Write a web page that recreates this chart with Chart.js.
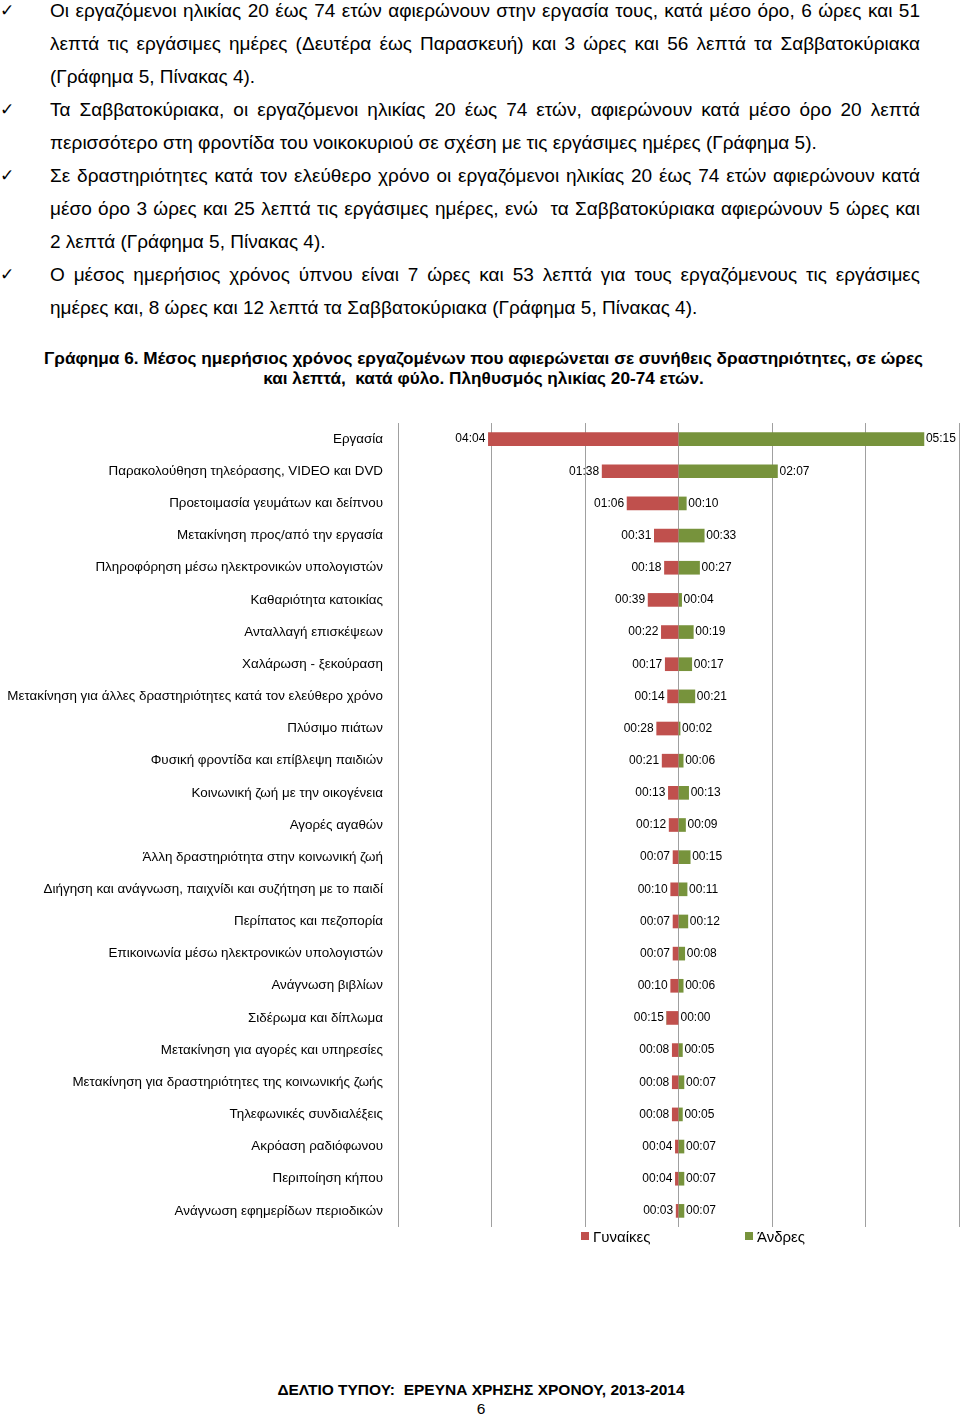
<!DOCTYPE html>
<html lang="el">
<head>
<meta charset="utf-8">
<title>Γράφημα 6</title>
<script src="https://cdn.jsdelivr.net/npm/chart.js@4.4.1/dist/chart.umd.min.js"></script>
<style>
  body { margin: 0; width: 960px; height: 1416px; position: relative; overflow: hidden;
         background: #fff; color: #000; font-family: "Liberation Sans", Arial, sans-serif; }
  .text { position: absolute; left: 0; top: -6px; width: 920px; font-size: 19px; line-height: 33px; }
  .para { position: relative; }
  .check { position: absolute; left: 0; top: 0; font-family: "DejaVu Sans", sans-serif; font-size: 17px; }
  .line { margin-left: 50px; text-align: justify; text-align-last: justify; }
  .line.end { text-align-last: left; }
  .caption { position: absolute; left: 0; top: 348px; width: 967px; text-align: center;
             font-weight: bold; font-size: 17.2px; line-height: 20px; }
  #chart { position: absolute; left: 0; top: 400px; }
  .legend { position: absolute; top: 1228px; font-size: 15px; line-height: 18px; }
  .legend span { display: inline-block; width: 8px; height: 8px; margin-right: 4px; vertical-align: 2px; }
  .footer { position: absolute; left: 0; top: 1380px; width: 962px; text-align: center;
            font-size: 15.5px; line-height: 19px; }
</style>
</head>
<body>

<div class="text">
  <div class="para"><span class="check">✓</span>
    <div class="line">Οι εργαζόμενοι ηλικίας 20 έως 74 ετών αφιερώνουν στην εργασία τους, κατά μέσο όρο, 6 ώρες και 51</div>
    <div class="line">λεπτά τις εργάσιμες ημέρες (Δευτέρα έως Παρασκευή) και 3 ώρες και 56 λεπτά τα Σαββατοκύριακα</div>
    <div class="line end">(Γράφημα 5, Πίνακας 4).</div>
  </div>
  <div class="para"><span class="check">✓</span>
    <div class="line">Τα Σαββατοκύριακα, οι εργαζόμενοι ηλικίας 20 έως 74 ετών, αφιερώνουν κατά μέσο όρο 20 λεπτά</div>
    <div class="line end">περισσότερο στη φροντίδα του νοικοκυριού σε σχέση με τις εργάσιμες ημέρες (Γράφημα 5).</div>
  </div>
  <div class="para"><span class="check">✓</span>
    <div class="line">Σε δραστηριότητες κατά τον ελεύθερο χρόνο οι εργαζόμενοι ηλικίας 20 έως 74 ετών αφιερώνουν κατά</div>
    <div class="line">μέσο όρο 3 ώρες και 25 λεπτά τις εργάσιμες ημέρες, ενώ &nbsp;τα Σαββατοκύριακα αφιερώνουν 5 ώρες και</div>
    <div class="line end">2 λεπτά (Γράφημα 5, Πίνακας 4).</div>
  </div>
  <div class="para"><span class="check">✓</span>
    <div class="line">Ο μέσος ημερήσιος χρόνος ύπνου είναι 7 ώρες και 53 λεπτά για τους εργαζόμενους τις εργάσιμες</div>
    <div class="line end">ημέρες και, 8 ώρες και 12 λεπτά τα Σαββατοκύριακα (Γράφημα 5, Πίνακας 4).</div>
  </div>
</div>

<div class="caption">Γράφημα 6. Μέσος ημερήσιος χρόνος εργαζομένων που αφιερώνεται σε συνήθεις δραστηριότητες, σε ώρες<br>και λεπτά, &nbsp;κατά φύλο. Πληθυσμός ηλικίας 20-74 ετών.</div>

<canvas id="chart" width="960" height="850"></canvas>

<div class="legend" style="left:581px"><span style="background:#C0504D"></span>Γυναίκες</div>
<div class="legend" style="left:745px"><span style="background:#77933C"></span>Άνδρες</div>

<div class="footer"><b>ΔΕΛΤΙΟ ΤΥΠΟΥ: &nbsp;ΕΡΕΥΝΑ ΧΡΗΣΗΣ ΧΡΟΝΟΥ, 2013-2014</b><br>6</div>

<script>
// Activities, top to bottom
const activities = [
    'Εργασία',
    'Παρακολούθηση τηλεόρασης, VIDEO και DVD',
    'Προετοιμασία γευμάτων και δείπνου',
    'Μετακίνηση προς/από την εργασία',
    'Πληροφόρηση μέσω ηλεκτρονικών υπολογιστών',
    'Καθαριότητα κατοικίας',
    'Ανταλλαγή επισκέψεων',
    'Χαλάρωση - ξεκούραση',
    'Μετακίνηση για άλλες δραστηριότητες κατά τον ελεύθερο χρόνο',
    'Πλύσιμο πιάτων',
    'Φυσική φροντίδα και επίβλεψη παιδιών',
    'Κοινωνική ζωή με την οικογένεια',
    'Αγορές αγαθών',
    'Άλλη δραστηριότητα στην κοινωνική ζωή',
    'Διήγηση και ανάγνωση, παιχνίδι και συζήτηση με το παιδί',
    'Περίπατος και πεζοπορία',
    'Επικοινωνία μέσω ηλεκτρονικών υπολογιστών',
    'Ανάγνωση βιβλίων',
    'Σιδέρωμα και δίπλωμα',
    'Μετακίνηση για αγορές και υπηρεσίες',
    'Μετακίνηση για δραστηριότητες της κοινωνικής ζωής',
    'Τηλεφωνικές συνδιαλέξεις',
    'Ακρόαση ραδιόφωνου',
    'Περιποίηση κήπου',
    'Ανάγνωση εφημερίδων περιοδικών'
];

// Minutes per day
const womenMinutes = [244, 98, 66, 31, 18, 39, 22, 17, 14, 28, 21, 13, 12, 7, 10, 7, 7, 10, 15, 8, 8, 8, 4, 4, 3];
const menMinutes = [315, 127, 10, 33, 27, 4, 19, 17, 21, 2, 6, 13, 9, 15, 11, 12, 8, 6, 0, 5, 7, 5, 7, 7, 7];

// Hidden x axis: -6h .. +6h, gridline every 2 hours
const axisMin = -360;
const axisMax = 360;
const axisStep = 120;

const seriesNames = ['Γυναίκες', 'Άνδρες'];
const seriesColors = ['#C0504D', '#77933C'];

function hhmm(min) {
    const h = Math.floor(min / 60);
    const m = min % 60;
    return String(h).padStart(2, '0') + ':' + String(m).padStart(2, '0');
}

// Value labels at the end of each bar
const barLabels = {
    id: 'barLabels',
    afterDatasetsDraw(chart) {
        const ctx = chart.ctx;
        const zero = chart.scales.x.getPixelForValue(0);
        ctx.save();
        ctx.font = '12px "Liberation Sans", Arial, sans-serif';
        ctx.fillStyle = '#000';
        ctx.textBaseline = 'middle';
        chart.data.datasets.forEach((ds, i) => {
            chart.getDatasetMeta(i).data.forEach((bar, j) => {
                const text = hhmm(Math.abs(ds.data[j]));
                if (i === 0) {
                    ctx.textAlign = 'right';
                    ctx.fillText(text, Math.min(bar.x, zero) - 3, bar.y);
                } else {
                    ctx.textAlign = 'left';
                    ctx.fillText(text, Math.max(bar.x, zero) + 2, bar.y);
                }
            });
        });
        ctx.restore();
    }
};

new Chart(document.getElementById('chart'), {
    type: 'bar',
    data: {
        labels: activities,
        datasets: [{
            label: seriesNames[0],
            data: womenMinutes.map(v => -v),
            backgroundColor: seriesColors[0],
            barThickness: 13
        }, {
            label: seriesNames[1],
            data: menMinutes,
            backgroundColor: seriesColors[1],
            barThickness: 13
        }]
    },
    options: {
        indexAxis: 'y',
        responsive: false,
        animation: false,
        devicePixelRatio: 1,
        layout: { padding: { top: 21, bottom: 3, left: 0, right: 1 } },
        plugins: {
            legend: { display: false },
            tooltip: { enabled: false }
        },
        scales: {
            x: {
                stacked: true,
                min: axisMin,
                max: axisMax,
                ticks: { display: false, stepSize: axisStep },
                grid: { color: '#a0a0a0', drawTicks: false },
                border: { display: false }
            },
            y: {
                stacked: true,
                grid: { display: false, drawTicks: false },
                border: { display: false },
                ticks: {
                    color: '#000',
                    padding: 15,
                    autoSkip: false,
                    font: { family: '"Liberation Sans", Arial, sans-serif', size: 13.4 }
                },
                afterFit(scale) { scale.width = 398; }
            }
        }
    },
    plugins: [barLabels]
});
</script>
</body>
</html>
